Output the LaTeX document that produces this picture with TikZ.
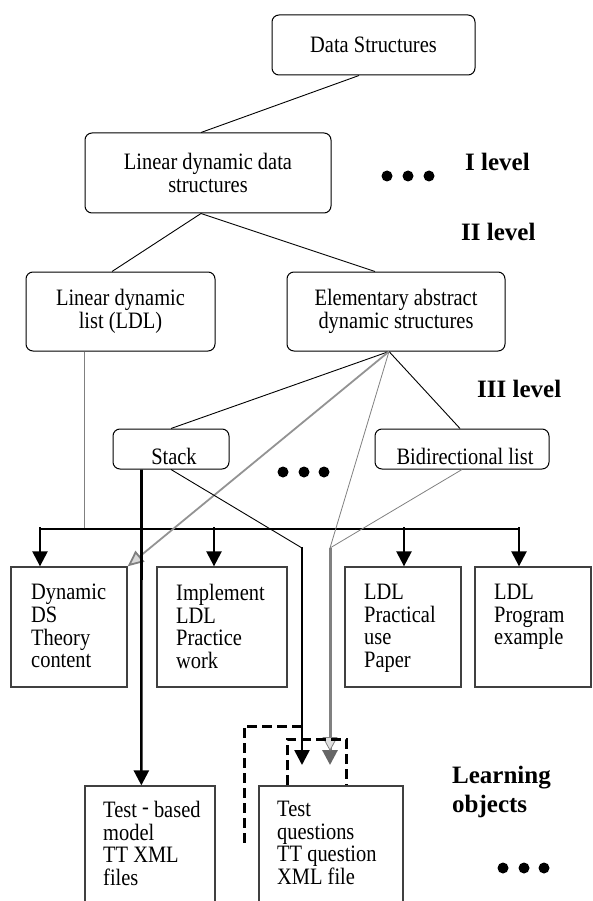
\documentclass[tikz,border=0pt]{standalone}
\usepackage{fontspec}
\setmainfont{Liberation Serif}
\newfontfamily\bodyfont{Liberation Serif}[FakeStretch=0.87]
\usetikzlibrary{arrows.meta,calc}
\begin{document}
\begin{tikzpicture}[x=1pt,y=-1pt,
  bodytext/.style={font={\bodyfont\fontsize{23.5}{22.7}\selectfont}},
  rbox/.style={draw=black, line width=1pt, rounded corners=7pt, inner sep=0pt, bodytext, align=center},
  lobox/.style={draw=black!75, line width=1.3pt, inner sep=0pt},
  lotext/.style={inner sep=0pt, anchor=north west, align=left, bodytext},
  lvl/.style={inner sep=0pt, anchor=base west, font={\fontsize{25}{29}\selectfont\bfseries}},
  thinline/.style={line width=0.9pt},
  grayline/.style={draw=gray, line width=0.8pt},
  dotn/.style={circle, fill=black, inner sep=0pt, minimum size=11pt},
  bigarrow/.style={line width=2.4pt, -{Triangle[length=15pt,width=15pt]}},
  dashline/.style={line width=3pt, dash pattern=on 10pt off 5pt},
]
\clip (0,0) rectangle (592,901);

% upper rounded boxes
\node[rbox, minimum width=203pt, minimum height=60pt] (ds) at (373.5,45) {Data Structures};
\node[rbox, minimum width=246pt, minimum height=80pt] (ldds) at (208,173) {Linear dynamic data\\structures};
\node[rbox, minimum width=189pt, minimum height=79pt] (ldl) at (120.5,311.5) {Linear dynamic\\list (LDL)};
\node[rbox, minimum width=218pt, minimum height=79pt] (eads) at (396,311.5) {Elementary abstract\\dynamic structures};
\node[rbox, minimum width=116pt, minimum height=40pt] (stack) at (171,449) {};
\node[bodytext, inner sep=0pt] (stackT) at (174,456) {Stack};
\node[rbox, minimum width=174pt, minimum height=40pt] (bidi) at (462,449) {};
\node[bodytext, inner sep=0pt] (bidiT) at (465,456) {Bidirectional list};

% learning object boxes
\node[lobox, minimum width=116pt, minimum height=120pt] (dyn) at (69,627) {};
\node[lotext] (dynT) at (31,584) {Dynamic\\DS\\Theory\\content};
\node[lobox, minimum width=130pt, minimum height=120pt] (impl) at (222,627) {};
\node[lotext] (implT) at (176,584) {Implement\\LDL\\Practice\\work};
\node[lobox, minimum width=116pt, minimum height=120pt] (prac) at (403,627) {};
\node[lotext] (pracT) at (364,584) {LDL\\Practical\\use\\Paper};
\node[lobox, minimum width=116pt, minimum height=120pt] (prog) at (533,627) {};
\node[lotext] (progT) at (494,584) {LDL\\Program\\example};
\node[lobox, minimum width=130pt, minimum height=140pt] (tb) at (150,856) {};
\node[lotext] (tbT) at (103,801) {Test \raisebox{3pt}{-} based\\model\\TT XML\\files};
\node[lobox, minimum width=144pt, minimum height=140pt] (tq) at (331,856) {};
\node[lotext] (tqT) at (277,801) {Test\\questions\\TT question\\XML file};

% level labels
\node[lvl] (lv1) at (465,170.5) {I level};
\node[lvl] (lv2) at (461,240.5) {II level};
\node[lvl] (lv3) at (477,397.5) {III level};
\node[lvl, anchor=north west, align=left] (lo) at (452,765.5) {Learning\\objects};

% dots
\foreach \i/\x/\y in {a1/387/176,a2/408/176,a3/429/176,b1/283/472,b2/304/472,b3/324/472,c1/503/868,c2/524/868,c3/544/868}
  \node[dotn] (dot\i) at (\x,\y) {};

% hierarchy lines
\draw[thinline] ($(ds.south)+(-14.5,0)$) -- ($(ldds.north)+(-7,0)$);
\draw[thinline] ($(ldds.south)+(-7,0)$) -- ($(ldl.north)+(-8.5,0)$);
\draw[thinline] ($(ldds.south)+(-7,0)$) -- ($(eads.north)+(-21,0)$);
\coordinate (apex) at ($(eads.south)+(-7,0)$);
\draw[thinline] (apex) -- (stack.north);
\draw[thinline] (apex) -- ($(bidi.north)+(-2,0)$);

% bus
\coordinate (bus1) at (40,529);
\coordinate (bus2) at (214,529);
\coordinate (bus3) at (404,529);
\coordinate (bus4) at (519,529);
\draw[draw=gray, line width=1.5pt] ($(ldl.south west)+(59,0)$) -- ($(ldl.south west)+(59,177.5)$);
\draw[line width=1.2pt] (bus1) -- (bus4);
\draw[bigarrow] ($(bus1)+(0,-2)$) -- (bus1 |- dyn.north);
\draw[bigarrow] ($(bus2)+(0,-2)$) -- (bus2 |- impl.north);
\draw[bigarrow] ($(bus3)+(0,-2)$) -- (bus3 |- prac.north);
\draw[bigarrow] ($(bus4)+(0,-2)$) -- (bus4 |- prog.north);

% gray line to Dynamic DS
\draw[draw=gray!85, line width=1.8pt, -{Triangle[length=16pt,width=14pt,fill=gray!30,color=gray]}] (apex) -- (dyn.north east);

% stack to test-based
\draw[line width=2.6pt, -{Triangle[length=15pt,width=15pt]}] ($(stack.south west)+(29,0)$) -- ($(tb.north west)+(57,0)$);

% stack to test questions
\coordinate (k1) at (302,548);
\coordinate (q1) at (302,765);
\draw[thinline] (stack.south) -- (k1);
\draw[line width=2.6pt, -{Triangle[length=15pt,width=15pt]}] ($(k1)+(0,-1)$) -- (q1);

% gray to test questions
\coordinate (k2) at (330,548);
\coordinate (q2) at (330,765);
\coordinate (q3) at (330,751);
\draw[grayline] (apex) -- (k2);
\draw[grayline] (bidi.south) -- (k2);
\draw[draw=gray, line width=3pt, -{Triangle[length=15pt,width=15pt,fill=black!60,color=black!60]}] (k2) -- (q2);
\draw[draw=gray, line width=0.8pt, -{Triangle[length=14pt,width=15pt,fill=gray!25,color=gray]}] ($(k2)+(0,150)$) -- (q3);

% dashed connectors
\coordinate (o1) at (302,726);
\coordinate (o2) at (244,726);
\coordinate (o3) at (244,843);
\draw[dashline] (o1) -- (o2) -- (o3);
\draw[line width=0.6pt, double, double distance=1.6pt] ($(o3)+(5,0)$) -- (tq.west |- o3);
\draw[dashline] ($(tq.north west)+(29,0)$) |- ($(tq.north west)+(88,-46)$) -- ($(tq.north west)+(88,0)$);
\end{tikzpicture}
\end{document}
